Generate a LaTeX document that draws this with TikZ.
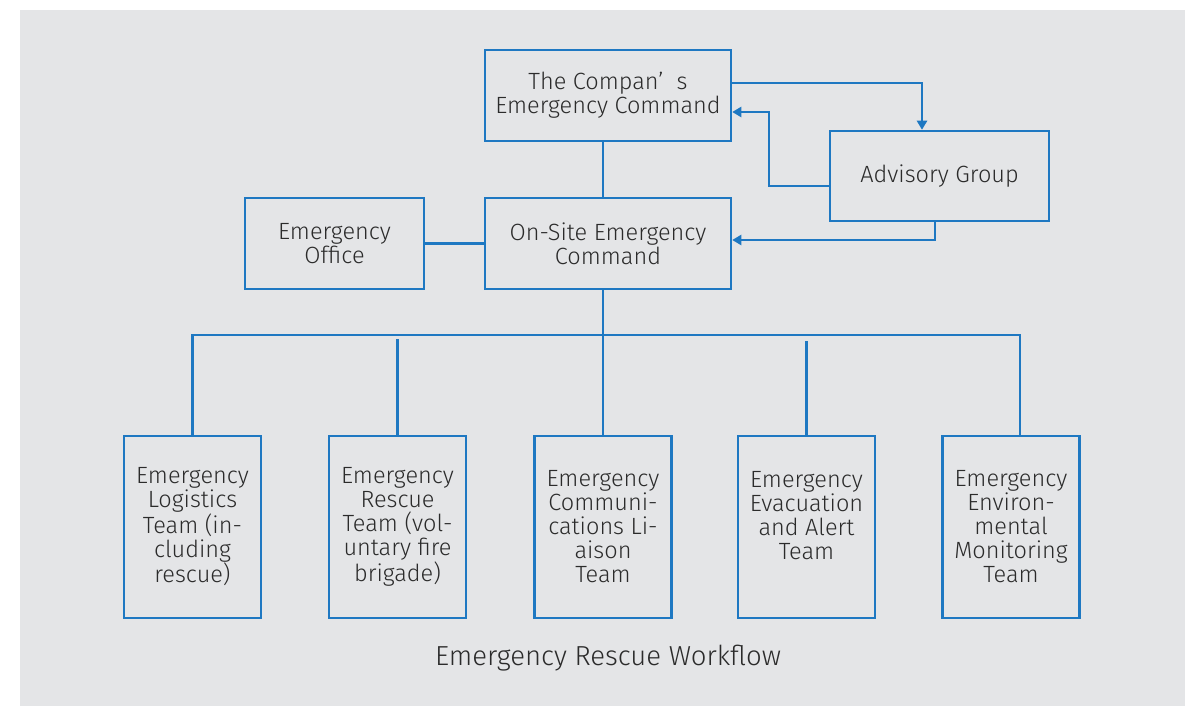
\documentclass[tikz,border=0pt]{standalone}
\usepackage{fontspec}
\setmainfont{Fira Sans Light}
\usepackage{xcolor}
\usetikzlibrary{arrows.meta}

\definecolor{lineblue}{HTML}{1E78C2}
\definecolor{bggray}{HTML}{E4E5E7}
\definecolor{txtgray}{HTML}{2B2B2B}

\tikzset{
  box/.style={draw=lineblue, line width=2.5pt, align=center, text=txtgray,
    font=\fontsize{23.5}{24}\selectfont, inner sep=0pt},
  topbox/.style={box, minimum width=246pt, minimum height=91pt},
  teambox/.style={box, minimum width=137pt, minimum height=182pt},
  link/.style={draw=lineblue, line width=2.4pt},
  arr/.style={link, -{Triangle[width=10pt,length=9pt]}}
}

\begin{document}
\begin{tikzpicture}[x=1pt, y=-1pt]
            \useasboundingbox (0,0) rectangle (1185,706);
            \fill[bggray] (20,10) rectangle (1185,706);

            \node[topbox] (company) at (608, 95.5) {The Compan’~~s\\Emergency Command};
            \node[topbox] (onsite) at (608, 243.5) {On-Site Emergency\\Command};
            \node[box, minimum width=179pt, minimum height=91pt] (office) at (334.5, 243.5) {Emergency\\Office};
            \node[box, minimum width=219pt, minimum height=90pt] (advisory) at (939.5, 176) {Advisory Group};

            \node[teambox] (logistics) at (192.5, 527) {Emergency\\Logistics\\Team (in-\\cluding\\rescue)};
            \node[teambox] (rescue) at (397.5, 527) {Emergency\\Rescue\\Team (vol-\\untary fire\\brigade)};
            \node[teambox] (liaison) at (603, 527) {Emergency\\Communi-\\cations Li-\\aison\\Team};
            \node[teambox] (evacuation) at (806.5, 527) {Emergency\\Evacuation\\and Alert\\Team\\\mbox{}};
            \node[teambox] (monitoring) at (1011, 527) {Emergency\\Environ-\\mental\\Monitoring\\Team};

            \node[text=txtgray, font=\fontsize{27.5}{30}\selectfont] (caption) at (608, 658) {Emergency Rescue Workflow};

            \draw[link] (company.south -| liaison.north) -- (onsite.north -| liaison.north); % command - on-site
            \draw[link] (office) -- (onsite);
            \draw[arr] ([yshift=12.5pt]company.east) -| ([xshift=-17.5pt]advisory.north); % to advisory
            \draw[arr] ([yshift=-10pt]advisory.west) -- ++(-60,0) |- ([yshift=-16.5pt]company.east);
            \draw[arr] ([xshift=-4.5pt]advisory.south) |- ([yshift=3.5pt]onsite.east);

            % team bus
            \draw[link] (onsite.south -| liaison.north) -- (liaison.north);
            \draw[link] (logistics.north) -- ++(0,-100) -| ([xshift=9pt]monitoring.north);
            \draw[link] (rescue.north) -- ++(0,-96);
            \draw[link] (evacuation.north) -- ++(0,-94);
        \end{tikzpicture}
\end{document}
